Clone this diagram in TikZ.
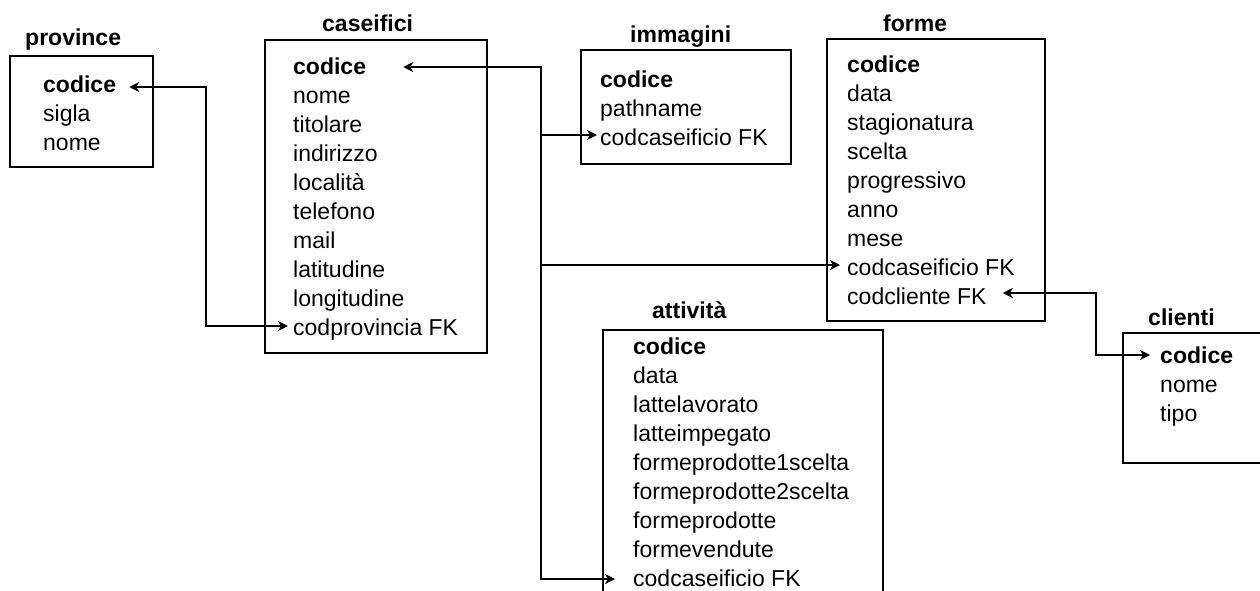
\documentclass[tikz,border=0pt]{standalone}
\usepackage{fontspec}
\setmainfont{Liberation Sans}
\usetikzlibrary{arrows.meta}
\begin{document}
\begin{tikzpicture}[x=1pt,y=-1pt,
  box/.style={draw,line width=1.6pt,inner sep=0pt},
  row/.style={anchor=base west,inner sep=0pt,font=\fontsize{23}{27}\selectfont},
  keyrow/.style={row,font=\fontsize{23}{27}\selectfont\bfseries},
  title/.style={keyrow},
  tip/.tip={Stealth[length=10pt,width=10pt,inset=3pt]},
  link/.style={line width=1.6pt,tip-tip},
  fk/.style={line width=1.6pt,-tip}]
\useasboundingbox (0,0) rectangle (1260,590);
\clip (0,0) rectangle (1260,590);
\fill[white] (0,0) rectangle (1260,590);

% boxes
\node[box,minimum width=143pt,minimum height=111pt] (provbox) at (81.5,111.5) {};
\node[box,minimum width=222pt,minimum height=313pt] (casbox) at (376,196.5) {};
\node[box,minimum width=210pt,minimum height=114pt] (immbox) at (686,107) {};
\node[box,minimum width=218pt,minimum height=282pt] (forbox) at (936,180) {};
\node[box,minimum width=280pt,minimum height=280pt] (attbox) at (743,470) {};
\node[box,minimum width=160pt,minimum height=130pt] (clibox) at (1203,398) {};

% titles
\node[title] (provt) at (25,45) {province};
\node[title] (cast) at (322,31) {caseifici};
\node[title] (immt) at (630,42) {immagini};
\node[title] (fort) at (883,31) {forme};
\node[title] (attt) at (652,318) {attività};
\node[title] (clit) at (1148,325) {clienti};

% province
\node[keyrow] (p1) at (43,92) {codice};
\node[row] (p2) at (43,121) {sigla};
\node[row] (p3) at (43,150) {nome};

% caseifici
\node[keyrow] (c1) at (293,74) {codice};
\node[row] (c2) at (293,103) {nome};
\node[row] (c3) at (293,132) {titolare};
\node[row] (c4) at (293,161) {indirizzo};
\node[row] (c5) at (293,190) {località};
\node[row] (c6) at (293,219) {telefono};
\node[row] (c7) at (293,248) {mail};
\node[row] (c8) at (293,277) {latitudine};
\node[row] (c9) at (293,306) {longitudine};
\node[row] (c10) at (293,335) {codprovincia FK};

% immagini
\node[keyrow] (i1) at (600,87) {codice};
\node[row] (i2) at (600,116) {pathname};
\node[row] (i3) at (600,145) {codcaseificio FK};

% forme
\node[keyrow] (f1) at (847,72) {codice};
\node[row] (f2) at (847,101) {data};
\node[row] (f3) at (847,130) {stagionatura};
\node[row] (f4) at (847,159) {scelta};
\node[row] (f5) at (847,188) {progressivo};
\node[row] (f6) at (847,217) {anno};
\node[row] (f7) at (847,246) {mese};
\node[row] (f8) at (847,275) {codcaseificio FK};
\node[row] (f9) at (847,304) {codcliente FK};

% attivita
\node[keyrow] (a1) at (633,354) {codice};
\node[row] (a2) at (633,383) {data};
\node[row] (a3) at (633,412) {lattelavorato};
\node[row] (a4) at (633,441) {latteimpegato};
\node[row] (a5) at (633,470) {formeprodotte1scelta};
\node[row] (a6) at (633,499) {formeprodotte2scelta};
\node[row] (a7) at (633,528) {formeprodotte};
\node[row] (a8) at (633,557) {formevendute};
\node[row] (a9) at (633,586) {codcaseificio FK};

% clienti
\node[keyrow] (k1) at (1160,363) {codice};
\node[row] (k2) at (1160,392) {nome};
\node[row] (k3) at (1160,421) {tipo};

% connector points
\coordinate (tp1) at ([xshift=13pt,yshift=5pt]p1.base east);
\coordinate (tc10) at ([xshift=-5pt,yshift=9pt]c10.base west);
\coordinate (tc1) at ([xshift=37pt,yshift=7pt]c1.base east);
\coordinate (ti3) at ([xshift=-3pt,yshift=10pt]i3.base west);
\coordinate (tf8) at ([xshift=-7pt,yshift=10pt]f8.base west);
\coordinate (ta9) at ([xshift=-18pt,yshift=7pt]a9.base west);
\coordinate (tf9) at ([xshift=16pt,yshift=11pt]f9.base east);
\coordinate (tk1) at ([xshift=-10pt,yshift=8pt]k1.base west);
\coordinate (v1) at (206,0);
\coordinate (v2) at (541,0);
\coordinate (v3) at (1096,0);

% connectors
\draw[link] (tp1) -| (v1 |- tc10) -- (tc10);
\draw[link] (tc1) -| (v2 |- ta9) -- (ta9);
\draw[fk] (v2 |- ti3) -- (ti3);
\draw[fk] (v2 |- tf8) -- (tf8);
\draw[link] (tf9) -| (v3 |- tk1) -- (tk1);
\end{tikzpicture}
\end{document}
